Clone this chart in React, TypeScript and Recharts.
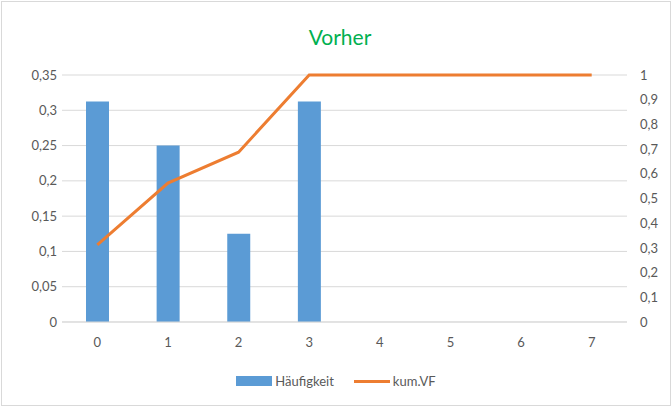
import { ComposedChart, Bar, Line, XAxis, YAxis, CartesianGrid } from 'recharts';

const categories = ['0', '1', '2', '3', '4', '5', '6', '7'];
const haeufigkeit = [0.3125, 0.25, 0.125, 0.3125, 0, 0, 0, 0];
const kumVF = [0.3125, 0.5625, 0.6875, 1, 1, 1, 1, 1];
const leftTicks = [0, 0.05, 0.1, 0.15, 0.2, 0.25, 0.3, 0.35];
const rightTicks = [0, 0.1, 0.2, 0.3, 0.4, 0.5, 0.6, 0.7, 0.8, 0.9, 1];

const BLUE = '#5b9bd5';
const ORANGE = '#ed7d31';
const GRID = '#d9d9d9';
const TEXT = '#595959';
const FONT = 'Lato, "Open Sans", sans-serif';

const data = categories.map((c, i) => ({
  x: c,
  haeufigkeit: haeufigkeit[i],
  kumVF: kumVF[i],
}));

const fmt = (v: number) => String(v).replace('.', ',');

export default function App() {
  const tick = { fill: TEXT, fontSize: 13, fontFamily: FONT };
  return (
    <div
      style={{
        position: 'absolute',
        left: 0,
        top: 0,
        width: 672,
        height: 407,
        background: '#fff',
        fontFamily: FONT,
      }}
    >
      <div
        style={{
          position: 'absolute',
          left: 1,
          top: 1,
          width: 668,
          height: 403,
          border: `1px solid ${GRID}`,
        }}
      />
      <div
        style={{
          position: 'absolute',
          left: 0,
          width: 680,
          top: 23,
          textAlign: 'center',
          color: '#00b050',
          fontSize: 21,
          lineHeight: '28px',
        }}
      >
        Vorher
      </div>
      <div style={{ position: 'absolute', left: 0, top: 0 }}>
        <ComposedChart
          width={672}
          height={407}
          data={data}
          margin={{ top: 75, right: 0, bottom: 65, left: 0 }}
          barCategoryGap={0}
        >
          <CartesianGrid vertical={false} stroke={GRID} yAxisId="left" />
          <XAxis
            dataKey="x"
            tickLine={false}
            axisLine={{ stroke: GRID }}
            tick={tick}
            tickMargin={10}
            height={20}
          />
          <YAxis
            yAxisId="left"
            orientation="left"
            width={62}
            domain={[0, 0.35]}
            ticks={leftTicks}
            tickFormatter={fmt}
            axisLine={false}
            tickLine={false}
            tickSize={0}
            tickMargin={5}
            tick={tick}
          />
          <YAxis
            yAxisId="right"
            orientation="right"
            width={45}
            domain={[0, 1]}
            ticks={rightTicks}
            tickFormatter={fmt}
            axisLine={false}
            tickLine={false}
            tickSize={0}
            tickMargin={13}
            tick={{ ...tick, textAnchor: 'start' }}
          />
          <Bar
            yAxisId="left"
            dataKey="haeufigkeit"
            name="Häufigkeit"
            fill={BLUE}
            barSize={23}
            isAnimationActive={false}
          />
          <Line
            yAxisId="right"
            dataKey="kumVF"
            name="kum.VF"
            type="linear"
            stroke={ORANGE}
            strokeWidth={3}
            dot={false}
            activeDot={false}
            isAnimationActive={false}
          />
        </ComposedChart>
      </div>
      {/* legend */}
      <div
        style={{
          position: 'absolute',
          top: 372,
          left: 0,
          width: 672,
          display: 'flex',
          justifyContent: 'center',
          alignItems: 'center',
          color: TEXT,
          fontSize: 13,
          lineHeight: '18px',
        }}
      >
        <span style={{ display: 'inline-block', width: 36, height: 10, background: BLUE, marginRight: 3 }} />
        <span style={{ marginRight: 20 }}>Häufigkeit</span>
        <span style={{ display: 'inline-block', width: 36, height: 3, background: ORANGE, marginRight: 3 }} />
        <span>kum.VF</span>
      </div>
    </div>
  );
}
